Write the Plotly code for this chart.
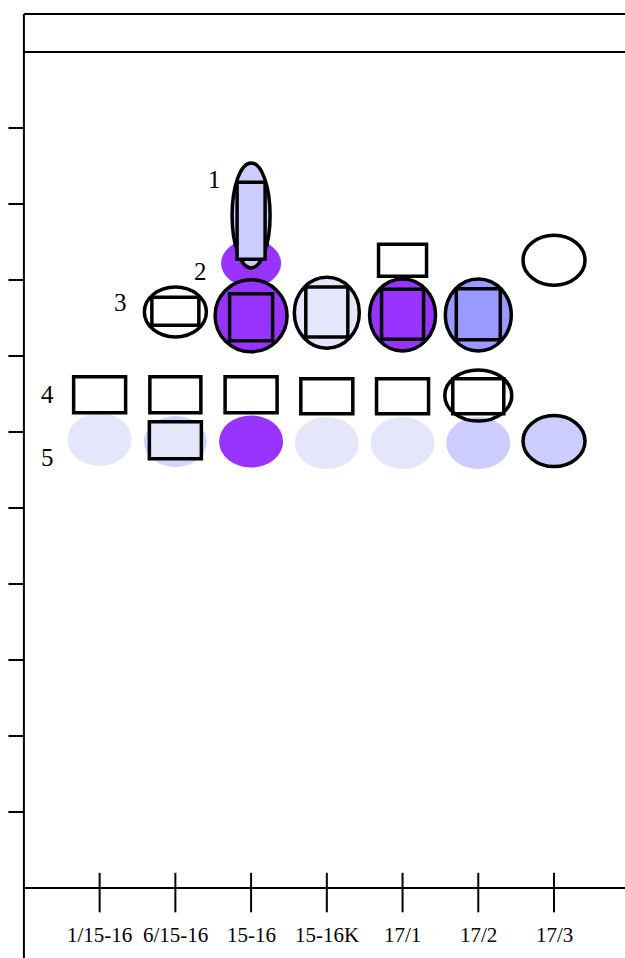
import plotly.graph_objects as go

# ---------------- data ----------------
lanes = ["1/15-16", "6/15-16", "15-16", "15-16K", "17/1", "17/2", "17/3"]
y_ticks = [1, 2, 3, 4, 5, 6, 7, 8, 9, 10]
front_level = 11
top_level = 11.5

# ellipse spots (drawing order matters)
ell_lane = [1, 2, 3, 4, 5, 6, 7, 3, 3, 2, 3, 4, 5, 6, 6, 7]
ell_rf   = [5.90, 5.875, 5.875, 5.855, 5.855, 5.855, 5.88, 8.22, 8.85,
            7.58, 7.53, 7.57, 7.54, 7.54, 6.48, 8.26]
# rectangle spots
rect_lane = [1, 2, 3, 4, 5, 6, 2, 3, 2, 3, 4, 5, 6, 5]
rect_rf   = [6.49, 6.49, 6.49, 6.47, 6.47, 6.47, 5.89, 8.78,
             7.59, 7.51, 7.58, 7.55, 7.55, 8.26]

# spot labels
spot_labels = ["1", "2", "3", "4", "5"]
label_x = [2.52, 2.33, 1.27, 0.305, 0.305]
label_y = [9.32, 8.11, 7.70, 6.49, 5.67]

# ---------------- styles ----------------
PURPLE = "#9933FF"
LAV = "#E6E6FA"
PERI = "#CCCCFF"
MID = "#9999FF"
NONE = "rgba(0,0,0,0)"

ell_w = [64, 63, 64, 64, 64, 64, 62, 60, 38, 62, 72, 65, 66, 66, 67, 62]
ell_h = [53, 51, 52, 52, 52, 52, 51, 47, 105, 50, 72, 71, 72, 72, 51, 50]
ell_fill = [LAV, "#D4D4FF", PURPLE, LAV, LAV, PERI, PERI, PURPLE, PERI,
            "white", PURPLE, LAV, PURPLE, MID, NONE, "white"]
ell_border = [False, False, False, False, False, False, True, False, True,
              True, True, True, True, True, True, True]

rect_w = [52, 51, 52, 52, 52, 51, 52, 28, 47, 43, 42, 42, 44, 48]
rect_h = [36, 36, 36, 35, 35, 35, 37, 77, 28, 47, 50, 50, 51, 32]
rect_fill = [NONE, NONE, NONE, NONE, NONE, NONE, LAV, PERI, NONE, PURPLE,
             LAV, PURPLE, MID, NONE]

PX_X = 75.73          # px per x unit
PX_Y = 76.0           # px per y unit
X0_PX = 23.9
BASE_PX = 888
W, H = 625, 958

x_range = [-X0_PX / PX_X, (W - X0_PX) / PX_X]
y_range = [-(H - BASE_PX) / PX_Y, BASE_PX / PX_Y]

fig = go.Figure()
fig.add_trace(go.Scatter(x=[], y=[], showlegend=False))

shapes = []
LW = 2
BW = 3.5
# frame lines
shapes.append(dict(type="line", x0=0, x1=0, y0=y_range[0] - 0.2, y1=top_level,
                   line=dict(color="black", width=LW)))
for lvl in (top_level, front_level, 0):
    shapes.append(dict(type="line", x0=0, x1=x_range[1] + 0.2, y0=lvl, y1=lvl,
                       line=dict(color="black", width=LW)))
# left ticks
for t in y_ticks:
    shapes.append(dict(type="line", x0=-0.205, x1=0, y0=t, y1=t,
                       line=dict(color="black", width=LW)))
# lane ticks
for i, _ in enumerate(lanes):
    shapes.append(dict(type="line", x0=i + 1, x1=i + 1, y0=0.2, y1=-0.32,
                       line=dict(color="black", width=LW)))

# ellipses
for lane, rf, w, h, f, b in zip(ell_lane, ell_rf, ell_w, ell_h, ell_fill, ell_border):
    hw, hh = w / 2 / PX_X, h / 2 / PX_Y
    shapes.append(dict(type="circle", x0=lane - hw, x1=lane + hw,
                       y0=rf - hh, y1=rf + hh, fillcolor=f,
                       line=dict(color="black" if b else NONE, width=BW if b else 0)))
# rectangles
for lane, rf, w, h, f in zip(rect_lane, rect_rf, rect_w, rect_h, rect_fill):
    hw, hh = w / 2 / PX_X, h / 2 / PX_Y
    shapes.append(dict(type="rect", x0=lane - hw, x1=lane + hw,
                       y0=rf - hh, y1=rf + hh, fillcolor=f,
                       line=dict(color="black", width=BW)))

annotations = []
for i, name in enumerate(lanes):
    annotations.append(dict(x=i + 1, y=-0.62, text=name, showarrow=False,
                            font=dict(family="Liberation Serif", size=21, color="black"),
                            xanchor="center", yanchor="middle"))
for t, lx, ly in zip(spot_labels, label_x, label_y):
    annotations.append(dict(x=lx, y=ly, text=t, showarrow=False,
                            font=dict(family="Liberation Serif", size=25, color="black"),
                            xanchor="center", yanchor="middle"))

fig.update_layout(
    width=W, height=H,
    margin=dict(l=0, r=0, t=0, b=0),
    paper_bgcolor="white", plot_bgcolor="white",
    xaxis=dict(range=x_range, visible=False, fixedrange=True),
    yaxis=dict(range=y_range, visible=False, fixedrange=True),
    shapes=shapes, annotations=annotations, showlegend=False,
    hovermode=False,
)

fig.write_html(
    "out.html",
    config={"displayModeBar": False, "staticPlot": True},
    post_script="document.body.style.margin='0';document.body.style.overflow='hidden';",
)
